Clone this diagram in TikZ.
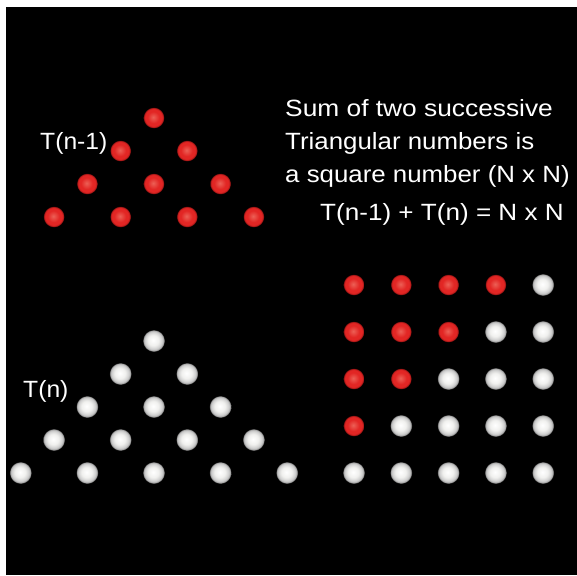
\documentclass[tikz,border=0pt]{standalone}
\usepackage{fontspec}
\setmainfont{Liberation Sans}
\definecolor{rhi}{RGB}{236,96,86}
\definecolor{rmid}{RGB}{226,38,36}
\definecolor{redge}{RGB}{150,18,18}
\definecolor{whi}{RGB}{255,255,255}
\definecolor{wmid}{RGB}{240,240,238}
\definecolor{wedge}{RGB}{140,140,140}
\pgfdeclareradialshading{rsphere}{\pgfpoint{-2bp}{2bp}}{color(0bp)=(rhi); color(14bp)=(rmid); color(20bp)=(rmid); color(24.5bp)=(redge); color(25bp)=(black); color(50bp)=(black)}
\pgfdeclareradialshading{wsphere}{\pgfpoint{-2bp}{2bp}}{color(0bp)=(whi); color(12bp)=(wmid); color(20bp)=(white!80!black); color(24.5bp)=(wedge); color(25bp)=(black); color(50bp)=(black)}
\begin{document}
\begin{tikzpicture}[x=1pt,y=-1pt,
  redball/.style={circle,minimum size=21pt,inner sep=0pt,shading=rsphere},
  whiteball/.style={circle,minimum size=22pt,inner sep=0pt,shading=wsphere},
  lbl/.style={text=white,font=\fontsize{23.5}{28}\selectfont,inner sep=0pt,anchor=base west}]
\useasboundingbox (0,0) rectangle (577,575);
\fill[white] (0,0) rectangle (577,575);
\fill[black] (6,7) rectangle (577,575);
% T(n-1) triangle (red)
\foreach \r in {1,...,4}{
  \foreach \k in {1,...,\r}{
    \node[redball] (a-\r-\k) at ({154+(2*\k-\r-1)*33.3},{118+(\r-1)*33}) {};
  }
}
% T(n) triangle (white)
\foreach \r in {1,...,5}{
  \foreach \k in {1,...,\r}{
    \node[whiteball] (b-\r-\k) at ({154+(2*\k-\r-1)*33.3},{341+(\r-1)*33}) {};
  }
}
% square N x N
\foreach \r in {1,...,5}{
  \foreach \c in {1,...,5}{
    \pgfmathtruncatemacro{\isred}{\c<=5-\r ? 1 : 0}
    \ifnum\isred=1
      \node[redball] (g-\r-\c) at ({354+(\c-1)*47.3},{285+(\r-1)*47}) {};
    \else
      \node[whiteball] (g-\r-\c) at ({354+(\c-1)*47.3},{285+(\r-1)*47}) {};
    \fi
  }
}
\node[lbl,xscale=1.05] (tn1) at (40,149) {T(n-1)};
\node[lbl,xscale=1.05] (tn) at (23,397) {T(n)};
\node[lbl,xscale=1.12] (l1) at (285,116) {Sum of two successive};
\node[lbl,xscale=1.1] (l2) at (285,149) {Triangular numbers is};
\node[lbl,xscale=1.1] (l3) at (285,182) {a square number (N x N)};
\node[lbl,xscale=1.11] (l4) at (320,220) {T(n-1) + T(n) = N x N};
\end{tikzpicture}
\end{document}
